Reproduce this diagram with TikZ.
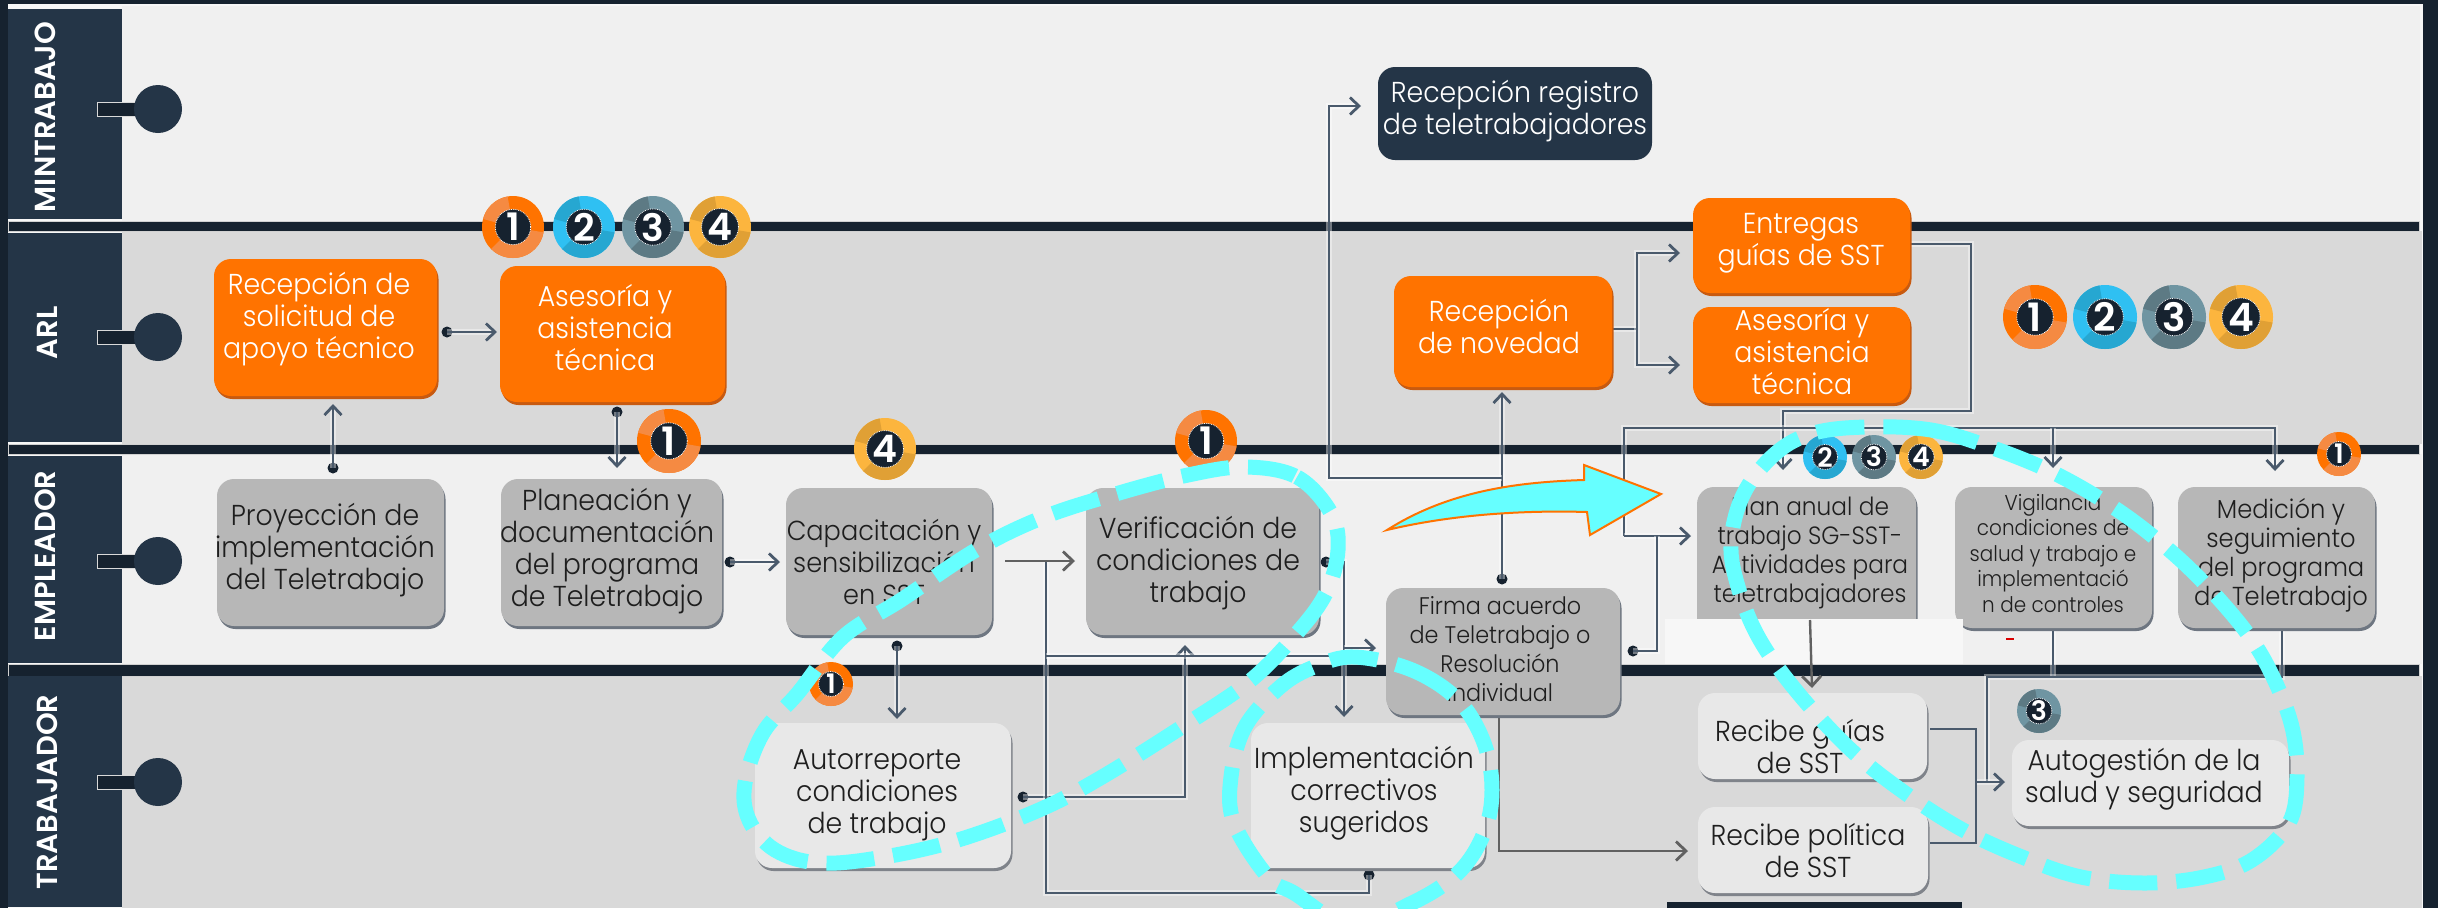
\documentclass[tikz,border=0pt]{standalone}
\usepackage{fontspec}
\setmainfont{Poppins Light}[FakeStretch=0.93]
\newfontfamily\hfont{Poppins SemiBold}
\usetikzlibrary{arrows.meta,shadows,calc}
\definecolor{darkbar}{HTML}{16222F}
\definecolor{head}{HTML}{243547}
\definecolor{laneA}{HTML}{F0F0F0}
\definecolor{laneB}{HTML}{D9D9D9}
\definecolor{orangeb}{HTML}{FF7300}
\definecolor{oranged}{HTML}{C85A10}
\definecolor{grayb}{HTML}{B7B7B7}
\definecolor{grayd}{HTML}{6E7681}
\definecolor{lightb}{HTML}{E8E8E8}
\definecolor{lightd}{HTML}{7F838A}
\definecolor{connc}{HTML}{4A5A6C}
\definecolor{cyanl}{HTML}{66FFFF}
\definecolor{txt}{HTML}{1E1E1E}
\tikzset{
  x=1pt,y=-1pt,
  boxbase/.style={rectangle,rounded corners=17pt,inner sep=0pt,outer sep=0pt},
  orangebox/.style={boxbase,fill=orangeb,copy shadow={shadow xshift=1.5pt,shadow yshift=-3pt,fill=oranged,draw=none}},
  graybox/.style={boxbase,fill=grayb,copy shadow={shadow xshift=1.5pt,shadow yshift=-3pt,fill=grayd,draw=none}},
  lightbox/.style={boxbase,fill=lightb,copy shadow={shadow xshift=1.5pt,shadow yshift=-3pt,fill=lightd,draw=none}},
  navybox/.style={boxbase,fill=head},
  lab/.style={align=center,inner sep=0pt,text=txt},
  wlab/.style={align=center,inner sep=0pt,text=white},
  fsN/.style={font=\fontsize{28.8}{32}\selectfont},
  fsM/.style={font=\fontsize{25}{29}\selectfont},
  fsS/.style={font=\fontsize{21.5}{25.5}\selectfont},
  conn/.style={draw=connc,line width=2.8pt,line join=miter,
    preaction={draw=white,draw opacity=.4,line width=5.5pt}},
  tipped/.style={conn,-{Straight Barb[length=9pt,width=17pt,line width=2.8pt]}},
  graytip/.style={draw=black!62,line width=2.8pt,-{Straight Barb[length=10pt,width=19pt,line width=2.8pt]}},
  dotn/.style={circle,fill=darkbar,minimum size=11pt,inner sep=0pt,outer sep=0pt},
  lanehead/.style={rotate=90,text=white,font=\fontsize{29}{29}\selectfont\hfont,inner sep=0pt},
  swim/.style={circle,fill=head,minimum size=48pt,inner sep=0pt},
  dashloop/.style={draw=cyanl,line width=15pt,dash pattern=on 48pt off 19pt},
}
\newcommand{\boxn}[6]{%
  \node[#2,minimum width={(#5)-(#3)},minimum height={(#6)-(#4)}] (#1) at ({((#3)+(#5))/2},{((#4)+(#6))/2}) {};}
\newcommand{\txtn}[4]{\node[#2] (#1-t) at (#3) {#4};}
\newcommand{\badge}[7]{%
  \begin{scope}[shift={(#2,#3)},x=#4pt,y=#4pt]
    \fill[#5] (0,0) circle (1);
    \fill[#6] (0,0) -- (100:1) arc (100:165:1) -- cycle;
    \fill[#6] (0,0) -- (225:1) arc (225:350:1) -- cycle;
    \pgfmathsetmacro{\bfs}{1.22*#4}\pgfmathsetmacro{\bmin}{1.14*#4}
    \node[circle,fill=darkbar,draw=white,line width=.8pt,densely dotted,minimum size=\bmin pt,inner sep=0pt,text=white,font=\fontsize{\bfs}{\bfs}\selectfont\hfont] (#1) at (0,0) {#7};
  \end{scope}}
\definecolor{oA}{HTML}{FF7300}\definecolor{oB}{HTML}{F58A42}
\definecolor{bA}{HTML}{2FC0F2}\definecolor{bB}{HTML}{26A7D1}
\definecolor{tA}{HTML}{6F95A2}\definecolor{tB}{HTML}{5D7A84}
\definecolor{yA}{HTML}{FCB53E}\definecolor{yB}{HTML}{E0A035}
\newcommand{\bOne}[4]{\badge{#1}{#2}{#3}{#4}{oA}{oB}{1}}
\newcommand{\bTwo}[4]{\badge{#1}{#2}{#3}{#4}{bA}{bB}{2}}
\newcommand{\bThree}[4]{\badge{#1}{#2}{#3}{#4}{tA}{tB}{3}}
\newcommand{\bFour}[4]{\badge{#1}{#2}{#3}{#4}{yA}{yB}{4}}
\begin{document}
\begin{tikzpicture}
\useasboundingbox (0,0) rectangle (2438,908);
% base and lanes
\fill[darkbar] (0,0) rectangle (2438,908);
\fill[white!97!black] (8,4) rectangle (2423,908);
\fill[laneA] (122,6) rectangle (2420,221);
\fill[laneB] (122,231) rectangle (2422,444);
\fill[laneA] (122,454) rectangle (2422,664);
\fill[laneB] (122,676) rectangle (2422,908);
% bars
\foreach \ya/\yb in {221/231,444/454,664/676}{
  \filldraw[fill=darkbar,draw=black!18,line width=.8pt] (8,\ya) rectangle (2419,\yb);}
% lane headers
\foreach \nm/\ya/\yb/\tx/\ty/\lb in {
  m/9/219/45/117/MINTRABAJO,
  a/233/442/47/333/ARL,
  e/456/663/45/556/EMPLEADOR,
  t/676/907/47/792/TRABAJADOR}{
  \fill[head] (8,\ya) rectangle (122,\yb);
  \node[lanehead] (head\nm) at (\tx,\ty) {\lb};
}
% swimlane markers
\foreach \nm/\yy in {m/109,a/337,e/561,t/782}{
  \filldraw[fill=darkbar,draw=black!15,line width=1pt] (97,\yy-7) rectangle (136,\yy+7);
  \node[swim] (mark\nm) at (158,\yy) {};
}
% coordinates for free ends
\coordinate (tSol) at (333,404);
\coordinate (tPlan) at (617,468);
\coordinate (tAse) at (497,332);
\coordinate (tCap) at (780,562);
\coordinate (cCap) at (1005,561);
\coordinate (tVer) at (1075,561);
\coordinate (jA) at (1046,561);
\coordinate (jB) at (1046,893);
\coordinate (jC) at (1369,893);
\coordinate (jD) at (1046,656);
\coordinate (jE) at (1344,656);
\coordinate (tAut) at (897,719);
\coordinate (tImp) at (1344,717);
\coordinate (jF) at (1344,562);
\coordinate (jG) at (1344,648);
\coordinate (tFir) at (1376,648);
\coordinate (jH) at (1185,797);
\coordinate (tVer2) at (1185,645);
\coordinate (jI) at (1502,478);
\coordinate (jJ) at (1329,478);
\coordinate (jK) at (1329,106);
\coordinate (tReg) at (1361,106);
\coordinate (tNov) at (1502,392);
\coordinate (jL) at (1637,329);
\coordinate (jM) at (1637,253);
\coordinate (jN) at (1637,365);
\coordinate (tEnt) at (1680,253);
\coordinate (tAs2) at (1680,365);
\coordinate (jO) at (1971,244);
\coordinate (jP) at (1971,411);
\coordinate (jQ) at (1783,411);
\coordinate (tPl1) at (1783,470);
\coordinate (jR) at (1624,428);
\coordinate (jS) at (2275,428);
\coordinate (tMed) at (2275,471);
\coordinate (jT) at (2053,428);
\coordinate (tVig) at (2053,468);
\coordinate (jU) at (1624,536);
\coordinate (tPl2) at (1691,536);
\coordinate (jV) at (1657,651);
\coordinate (jW) at (1657,536);
\coordinate (jX) at (1499,851);
\coordinate (tPol) at (1688,851);
\coordinate (jY) at (2053,677);
\coordinate (jZ) at (2282,677);
\coordinate (jAA) at (1987,677);
\coordinate (jAB) at (1987,782);
\coordinate (tAuto) at (2005,782);
\coordinate (jAC) at (1976,729);
\coordinate (jAD) at (1976,843);
\coordinate (jAE) at (1976,782);
\coordinate (sGui) at (1930,729);
\coordinate (sPol) at (1930,843);
% dots
\node[dotn] (d1) at (447,332) {};
\node[dotn] (d2) at (333,468) {};
\node[dotn] (d3) at (617,412) {};
\node[dotn] (d4) at (730,562) {};
\node[dotn] (d5) at (897,646) {};
\node[dotn] (d6) at (1023,797) {};
\node[dotn] (d7) at (1326,562) {};
\node[dotn] (d8) at (1369,875) {};
\node[dotn] (d9) at (1502,579) {};
\node[dotn] (d10) at (1633,651) {};
% connectors
\draw[tipped] (d1.center) -- (tAse);
\draw[tipped] (d2.center) -- (tSol);
\draw[tipped] (d3.center) -- (tPlan);
\draw[tipped] (d4.center) -- (tCap);
\draw[tipped] (d5.center) -- (tAut);
\draw[tipped] (d6.center) -- (jH) -- (tVer2);
\draw[conn] (jA) -- (jB) -- (jC) -- (d8.center);
\draw[conn] (jD) -- (jE);
\draw[tipped] (d7.center) -- (jF) -- (tImp);
\draw[tipped] (jG) -- (tFir);
\draw[graytip] (cCap) -- (tVer);
\draw[tipped] (d9.center) -- (tNov);
\draw[tipped] (jI) -- (jJ) -- (jK) -- (tReg);
\draw[conn] (1612,329) -- (jL);
\draw[tipped] (jL) -- (jM) -- (tEnt);
\draw[tipped] (jL) -- (jN) -- (tAs2);
\draw[tipped] (1910,244) -- (jO) -- (jP) -- (jQ) -- (tPl1);
\draw[tipped] (jU) -- (jR) -- (jS) -- (tMed);
\draw[tipped] (jT) -- (tVig);
\draw[tipped] (jU) -- (tPl2);
\draw[conn] (d10.center) -- (jV) -- (jW);
\draw[graytip] (1499,715) -- (jX) -- (tPol);
\draw[conn] (2053,628) -- (jY);
\draw[conn] (2282,628) -- (jZ) -- (jAA) -- (jAB);
\draw[tipped] (jAE) -- (tAuto);
\draw[connc,line width=1.8pt] (sGui) -- (jAC) -- (jAD) -- (sPol);
% boxes
\boxn{bSol}{orangebox}{214}{259}{437}{396}
\boxn{bAse}{orangebox}{500}{266}{725}{402}
\boxn{bNov}{orangebox}{1394}{276}{1612}{387}
\boxn{bEnt}{orangebox}{1693}{198}{1910}{293}
\boxn{bAs2}{orangebox}{1693}{307}{1910}{403}
\boxn{bReg}{navybox}{1378}{67}{1652}{160}
\boxn{bPro}{graybox}{217}{479}{444}{626}
\boxn{bPla}{graybox}{501}{479}{722}{626}
\boxn{bCap}{graybox}{786}{488}{992}{635}
\boxn{bVer}{graybox}{1086}{488}{1319}{635}
\boxn{bFir}{graybox}{1386}{588}{1620}{715}
\boxn{bPlA}{graybox}{1697}{487}{1916}{640}
\boxn{bVig}{graybox}{1955}{487}{2152}{628}
\boxn{bMed}{graybox}{2178}{487}{2375}{628}
\boxn{bAut}{lightbox}{755}{723}{1011}{868}
\boxn{bImp}{lightbox}{1251}{723}{1485}{868}
\boxn{bGui}{lightbox}{1698}{693}{1927}{779}
\boxn{bPol}{lightbox}{1698}{807}{1928}{893}
\boxn{bAug}{lightbox}{2012}{740}{2289}{826}
% texts
\txtn{bSol}{wlab,fsN}{319,319}{Recepción de\\solicitud de\\apoyo técnico}
\txtn{bAse}{wlab,fsN}{605,328}{Asesoría y\\asistencia\\técnica}
\txtn{bNov}{wlab,fsN}{1499,326}{Recepción\\de novedad}
\txtn{bEnt}{wlab,fsN}{1801,243}{Entregas\\guías de SST}
\txtn{bAs2}{wlab,fsN}{1802,352}{Asesoría y\\asistencia\\técnica}
\txtn{bReg}{wlab,fsN}{1515,111}{Recepción registro\\de teletrabajadores}
\txtn{bPro}{lab,fsN}{325,550}{Proyección de\\implementación\\del Teletrabajo}
\txtn{bPla}{lab,fsN}{607,551}{Planeación y\\documentación\\del programa\\de Teletrabajo}
\txtn{bCap}{lab,font=\fontsize{27.5}{32}\selectfont}{884,562}{Capacitación y\\sensibilización\\en SST}
\txtn{bVer}{lab,fsN}{1198,563}{Verificación de\\condiciones de\\trabajo}
\txtn{bFir}{lab,font=\fontsize{24}{29}\selectfont}{1500,649}{Firma acuerdo\\de Teletrabajo o\\Resolución\\Individual}
\txtn{bVig}{lab,fsS}{2053,553}{Vigilancia\\condiciones de\\salud y trabajo e\\implementació\\n de controles}
\txtn{bMed}{lab,font=\fontsize{26}{29}\selectfont}{2281,555}{Medición y\\seguimiento\\del programa\\de Teletrabajo}
\txtn{bAut}{lab,fsN}{877,795}{Autorreporte\\condiciones\\de trabajo}
\txtn{bImp}{lab,fsN}{1364,793}{Implementación\\correctivos\\sugeridos}
\txtn{bGui}{lab,fsN}{1800,747}{Recibe guías\\de SST}
\txtn{bPol}{lab,fsN}{1808,851}{Recibe política\\de SST}
\txtn{bAug}{lab,fsN}{2144,779}{Autogestión de la\\salud y seguridad}
% white patch over the plan box
\fill[white!97!black] (1665,619) rectangle (1963,664);
\txtn{bPlA}{lab,fsM}{1810,553}{Plan anual de\\trabajo SG-SST-\\Actividades para\\teletrabajadores}
\fill[darkbar] (1667,902) rectangle (1962,908);
\draw[graytip,line width=2.4pt] (1810,620) -- (1812,688);
\fill[red!85!black] (2006,638) rectangle (2014,640);
% badges
\bOne{b11}{513}{227}{31}\bTwo{b12}{584}{227}{31}\bThree{b13}{653}{227}{31}\bFour{b14}{720}{227}{31}
\bOne{b21}{669}{441}{32}
\bFour{b31}{885}{449}{31}
\bOne{b41}{1206}{441}{31}
\bOne{b51}{831}{684}{22}
\bOne{b61}{2035}{317}{32}\bTwo{b62}{2105}{317}{32}\bThree{b63}{2174}{317}{32}\bFour{b64}{2241}{317}{32}
\bTwo{b72}{1825}{457}{22}\bThree{b73}{1874}{457}{22}\bFour{b74}{1921}{457}{22}
\bOne{b81}{2339}{454}{22}
\bThree{b93}{2039}{711}{22}
% dashed loops
\draw[dashloop] plot[smooth cycle,tension=.6] coordinates {
 (1245,467) (1297,477) (1331,513) (1338,550) (1326,593) (1297,633) (1251,680) (1188,723)
 (1102,777) (1039,810) (958,840) (884,857) (820,863) (775,850) (749,820) (745,783) (763,733)
 (798,693) (843,637) (901,600) (976,550) (1044,517) (1119,493) (1188,475)};
\draw[dashloop] plot[smooth cycle,tension=.6] coordinates {
 (1354,657) (1412,670) (1458,700) (1484,743) (1492,790) (1484,833) (1458,873) (1412,903)
 (1350,925) (1294,893) (1268,877) (1234,823) (1231,777) (1245,727) (1280,687) (1314,667)};
\draw[dashloop] plot[smooth cycle,tension=.6] coordinates {
 (1867,427) (1931,430) (1990,447) (2054,473) (2113,507) (2161,543) (2204,583) (2247,633)
 (2273,677) (2292,727) (2297,777) (2289,823) (2252,860) (2204,877) (2145,883) (2081,877)
 (2022,857) (1963,830) (1905,793) (1851,750) (1798,693) (1760,640) (1739,590) (1731,543)
 (1744,493) (1776,453) (1814,433)};
% big arrow
\filldraw[fill=cyanl,draw=orangeb,line width=2pt,line join=miter]
  (1387,530) .. controls (1450,490) and (1520,482) .. (1584,480)
  -- (1584,465) -- (1661,494) -- (1590,535) -- (1587,512)
  .. controls (1520,510) and (1450,515) .. (1387,530) -- cycle;
\end{tikzpicture}
\end{document}
